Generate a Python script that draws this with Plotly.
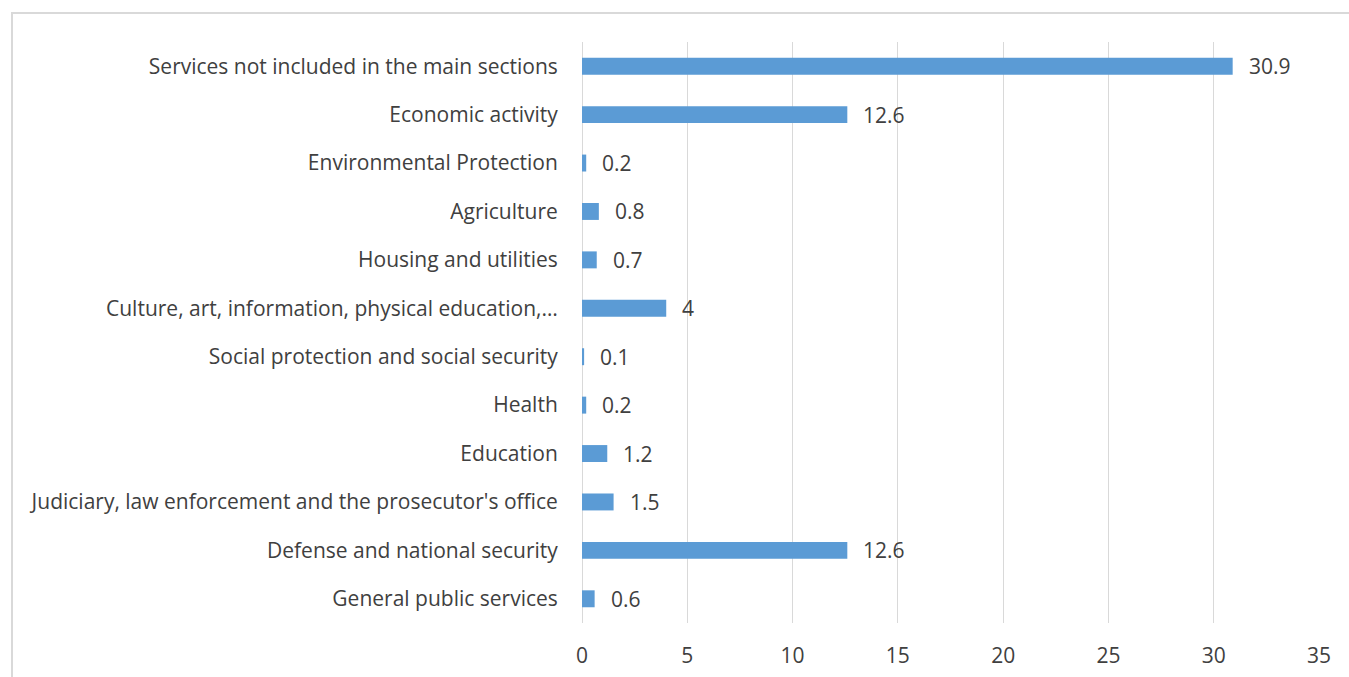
import plotly.graph_objects as go

# Budget spending by functional section (bottom-to-top order as drawn)
categories = [
    "General public services",
    "Defense and national security",
    "Judiciary, law enforcement and the prosecutor's office",
    "Education",
    "Health",
    "Social protection and social security",
    "Culture, art, information, physical education,…",
    "Housing and utilities",
    "Agriculture",
    "Environmental Protection",
    "Economic activity",
    "Services not included in the main sections",
]
values = [0.6, 12.6, 1.5, 1.2, 0.2, 0.1, 4, 0.7, 0.8, 0.2, 12.6, 30.9]
value_labels = ["0.6", "12.6", "1.5", "1.2", "0.2", "0.1", "4", "0.7", "0.8", "0.2", "12.6", "30.9"]
x_ticks = [0, 5, 10, 15, 20, 25, 30, 35]

BAR_COLOR = "#5B9BD5"
TEXT_COLOR = "#404040"
GRID_COLOR = "#D9D9D9"
FONT = "Open Sans"

fig = go.Figure()
fig.add_trace(go.Bar(
    y=categories,
    x=values,
    orientation="h",
    marker=dict(color=BAR_COLOR, line=dict(width=0)),
    hoverinfo="x+y",
))

# value labels to the right of each bar
for cat, val, lab in zip(categories, values, value_labels):
    fig.add_annotation(
        x=val, y=cat, text=lab, showarrow=False,
        xanchor="left", yanchor="middle", xshift=14,
        font=dict(family=FONT, size=21, color=TEXT_COLOR),
    )

W, H = 1349, 677
L, R, T, B = 582, 30, 42, 54
pw, ph = W - L - R, H - T - B

# outer chart border (light gray frame)
fig.add_shape(
    type="rect", xref="paper", yref="paper",
    x0=(12 - L) / pw, x1=(W + 20 - L) / pw,
    y0=-(B + 20) / ph, y1=(H - B - 13) / ph,
    line=dict(color=GRID_COLOR, width=2), fillcolor="rgba(0,0,0,0)",
    layer="below",
)

fig.update_layout(
    width=W, height=H,
    margin=dict(l=L, r=R, t=T, b=B, pad=0, autoexpand=False),
    paper_bgcolor="white", plot_bgcolor="white",
    bargap=0.65,
    showlegend=False,
    font=dict(family=FONT, color=TEXT_COLOR),
    xaxis=dict(
        range=[0, 35], tickvals=x_ticks, ticktext=[str(t) for t in x_ticks],
        showgrid=True, gridcolor=GRID_COLOR, gridwidth=1,
        zeroline=True, zerolinecolor=GRID_COLOR, zerolinewidth=1,
        showline=False, ticks="outside", ticklen=14, tickcolor="rgba(0,0,0,0)",
        tickfont=dict(family=FONT, size=21, color=TEXT_COLOR),
        automargin=False, fixedrange=True,
    ),
    yaxis=dict(
        categoryorder="array", categoryarray=categories,
        showgrid=False, zeroline=False, showline=False,
        ticks="outside", ticklen=19, tickcolor="rgba(0,0,0,0)",
        tickfont=dict(family=FONT, size=21, color=TEXT_COLOR),
        automargin=False, fixedrange=True,
    ),
)

fig.write_html("out.html")
